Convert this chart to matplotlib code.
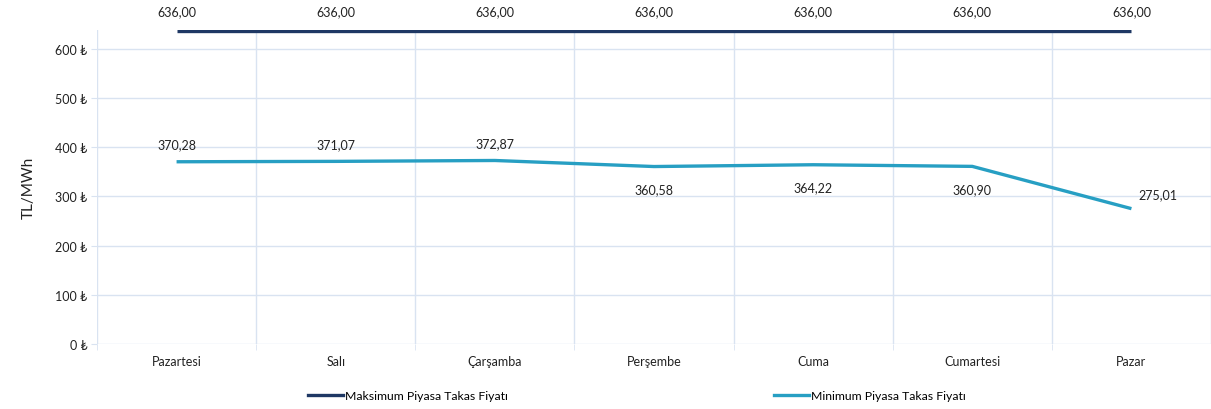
import matplotlib.pyplot as plt
from matplotlib.lines import Line2D

days = ["Pazartesi", "Salı", "Çarşamba", "Perşembe", "Cuma", "Cumartesi", "Pazar"]
max_price = [636.00, 636.00, 636.00, 636.00, 636.00, 636.00, 636.00]
min_price = [370.28, 371.07, 372.87, 360.58, 364.22, 360.90, 275.01]
# label placement for the min series: above / below / right
min_pos = ["above", "above", "above", "below", "below", "below", "right"]

yticks = [0, 100, 200, 300, 400, 500, 600]

plt.rcParams['font.family'] = ['Lato', 'DejaVu Sans']

navy = "#1F3864"
teal = "#279FC3"
grid_c = "#D9E3F1"
txt_c = "#222222"

fig = plt.figure(figsize=(12.11, 4.10), dpi=100)
ax = fig.add_axes([97 / 1211, 65 / 410, 1114 / 1211, 314 / 410])

x = list(range(len(days)))
ax.plot(x, max_price, color=navy, lw=2.4, solid_capstyle='butt')
ax.plot(x, min_price, color=teal, lw=2.4, solid_capstyle='butt')

fmt = lambda v: f"{v:.2f}".replace(".", ",")
for i, v in zip(x, max_price):
    ax.annotate(fmt(v), (i, v), xytext=(0, 10), textcoords='offset points',
                ha='center', va='bottom', fontsize=9, color=txt_c)
for i, v, p in zip(x, min_price, min_pos):
    if p == "above":
        off, ha, va = (0, 8), 'center', 'bottom'
    elif p == "below":
        off, ha, va = (0, -12), 'center', 'top'
    else:
        off, ha, va = (5, 6), 'left', 'bottom'
    ax.annotate(fmt(v), (i, v), xytext=off, textcoords='offset points',
                ha=ha, va=va, fontsize=9, color=txt_c)

ax.set_xlim(-0.5, len(days) - 0.5)
ax.set_ylim(0, 638)
ax.set_yticks(yticks)
ax.set_yticklabels([f"{t} ₺" for t in yticks], fontsize=9, color=txt_c)
ax.set_xticks(x)
ax.set_xticklabels(days, fontsize=9, color=txt_c)
ax.set_xticks([i - 0.5 for i in range(len(days) + 1)], minor=True)

ax.grid(axis='y', color=grid_c, lw=1.0)
ax.grid(axis='x', which='minor', color=grid_c, lw=1.0)
ax.set_axisbelow(True)
for s in ax.spines.values():
    s.set_visible(False)
ax.tick_params(axis='x', which='major', length=0, pad=8)
ax.tick_params(axis='x', which='minor', length=4, color=grid_c)
ax.tick_params(axis='y', length=4, color=grid_c, pad=3)

ax.set_ylabel("TL/MWh", fontsize=11, color=txt_c, labelpad=14)

h_max = Line2D([], [], color=navy, lw=2.4)
h_min = Line2D([], [], color=teal, lw=2.4)
leg_kw = dict(loc='center left', frameon=False, fontsize=8.8, handlelength=2.85,
              handletextpad=0.15, borderpad=0, borderaxespad=0)
fig.legend([h_max], ["Maksimum Piyasa Takas Fiyatı"],
           bbox_to_anchor=(308 / 1211, 13 / 410), **leg_kw)
fig.legend([h_min], ["Minimum Piyasa Takas Fiyatı"],
           bbox_to_anchor=(774 / 1211, 13 / 410), **leg_kw)

fig.savefig("out.png", dpi=100)
